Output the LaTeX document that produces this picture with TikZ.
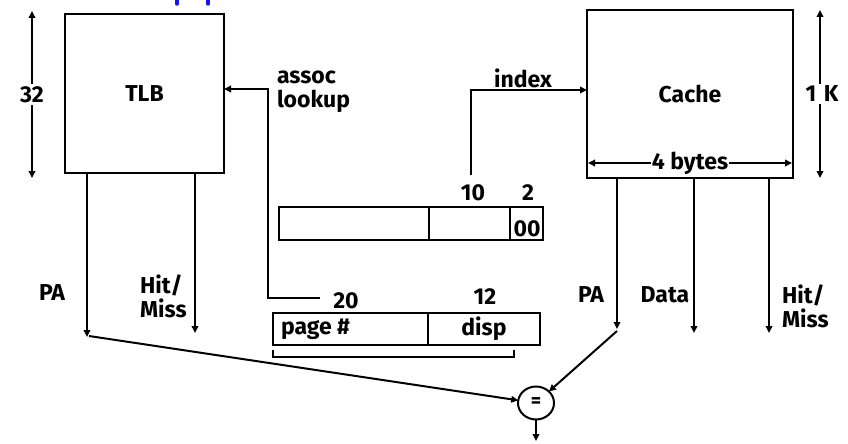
\documentclass[tikz,border=0pt]{standalone}
\usepackage{fontspec}
\setmainfont{Fira Sans}[BoldFont={Fira Sans Bold}]
\usetikzlibrary{arrows.meta,shapes.geometric}
\begin{document}
\begin{tikzpicture}[x=1pt,y=-1pt,
  every node/.style={font=\bfseries\fontsize{23}{24}\selectfont, inner sep=1pt, outer sep=0pt},
  box/.style={draw, line width=2.4pt, inner sep=0pt, outer sep=0pt},
  fld/.style={draw, line width=2pt, inner sep=0pt, outer sep=0pt, minimum height=33pt},
  arr/.style={line width=2pt, -{Triangle[length=7pt,width=6.5pt]}},
  dim/.style={line width=2pt, {Triangle[length=7pt,width=6.5pt]}-{Triangle[length=7pt,width=6.5pt]}},
  ln/.style={line width=2pt},
  lbl/.style={fill=white, inner sep=2pt}]
\useasboundingbox (0,0) rectangle (848,444);

% blue marks at top edge
\draw[draw={rgb,255:red,20;green,20;blue,230}, line width=3.5pt, line cap=round] (177,-2) -- (177,4);
\draw[draw={rgb,255:red,20;green,20;blue,230}, line width=3.5pt, line cap=round] (208,-2) -- (208,4);

% main boxes
\node[box, minimum width=159pt, minimum height=159pt] (tlb) at (144.5,93.5) {TLB};
\node[box, minimum width=206pt, minimum height=168pt] (cache) at (690,94) {Cache};

% dimension arrows
\coordinate (d32a) at (32,11);
\coordinate (d32b) at (32,178);
\draw[dim] (d32a) -- node[lbl] {32} (d32b);
\coordinate (d1ka) at (820,10);
\coordinate (d1kb) at (820,178);
\draw[dim] (d1ka) -- node[lbl, xshift=2pt] {1\,\,K} (d1kb);
\coordinate (d4a) at (588,163);
\coordinate (d4b) at (792,163);
\draw[dim] (d4a) -- node[lbl, inner sep=0.5pt] {4 bytes} (d4b);

% virtual address fields (upper)
\node[fld, minimum width=150pt] (va1) at (354,223.5) {};
\node[fld, minimum width=81pt] (va2) at (469.5,223.5) {};
\node[fld, minimum width=33pt] (va3) at (526.5,223.5) {};
\node (t00) at (527,229) {00};
\node (n10) at (473,193) {10};
\node (n2) at (528,193) {2};

% lower address fields
\node[fld, minimum width=155pt, minimum height=32pt] (pg) at (350.5,329) {};
\node[fld, minimum width=112pt, minimum height=32pt] (dsp) at (484,329) {disp};
\node[anchor=west] (pgt) at (280,329) {page \#};
\node (n20) at (346,301) {20};
\node (n12) at (485,297) {12};
\draw[ln] (273,350) -- (273,357) -- (514,357) -- (514,350);

% assoc lookup
\node[anchor=west, align=left] (assoc) at (276,92) {assoc\\lookup};
\coordinate (a20) at (320,298);
\coordinate (alc) at (268,298);
\draw[arr] (a20) -- (alc) |- ([yshift=4.5pt]tlb.east);

% index
\node (index) at (523,78) {index};
\coordinate (ix) at (471,175);
\draw[arr] (ix) |- ([yshift=4pt]cache.west);

% TLB outputs
\coordinate (tpa) at (87,337);
\coordinate (thm) at (195,333);
\draw[arr] (tpa |- tlb.south) -- (tpa);
\draw[arr] (thm |- tlb.south) -- (thm);
\node (pal) at (52,293) {PA};
\node[anchor=west, align=left] (hml) at (139,296) {Hit/\\Miss};

% Cache outputs
\coordinate (cpa) at (617,329);
\coordinate (cdt) at (694,333);
\coordinate (chm) at (769,333);
\draw[arr] (cpa |- cache.south) -- (cpa);
\draw[arr] (cdt |- cache.south) -- (cdt);
\draw[arr] (chm |- cache.south) -- (chm);
\node (par) at (591,295) {PA};
\node (data) at (665,295) {Data};
\node[anchor=west, align=left] (hmr) at (781,306) {Hit/\\Miss};

% comparator
\node[draw, ellipse, line width=2pt, minimum width=36pt, minimum height=33pt, inner sep=0pt,
      font=\bfseries\fontsize{20}{20}\selectfont] (eq) at (536,403) {=};
\draw[arr] ([xshift=2pt,yshift=1pt]tpa) -- (eq);
\draw[arr] ([yshift=-2pt]cpa) -- (eq);
\coordinate (out) at (536,441);
\draw[arr] (eq.south) -- (out);
\end{tikzpicture}
\end{document}
